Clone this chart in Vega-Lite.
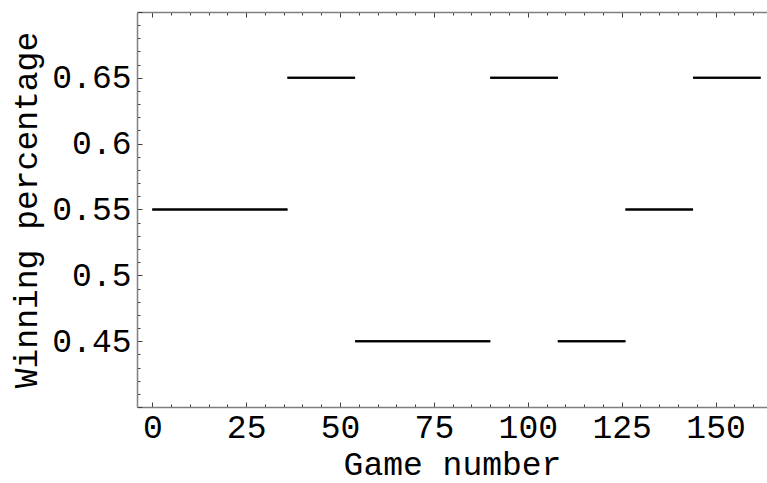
{
  "$schema": "https://vega.github.io/schema/vega-lite/v6.json",
  "autosize": "none",
  "padding": {"left": 137, "top": 12, "right": 0, "bottom": 76},
  "width": 630,
  "height": 395,
  "background": "white",
  "config": {
    "view": {"stroke": null},
    "font": "Liberation Mono",
    "axis": {
      "labelFont": "Liberation Mono",
      "titleFont": "Liberation Mono",
      "labelFontSize": 33,
      "titleFontSize": 33,
      "titleFontWeight": "normal",
      "labelColor": "black",
      "titleColor": "black",
      "domainColor": "#808080",
      "domainWidth": 1.5,
      "tickColor": "#404040",
      "tickWidth": 1,
      "grid": false
    }
  },
  "data": {
    "values": [
      {"start": 0, "end": 36, "pct": 0.55},
      {"start": 36, "end": 54, "pct": 0.65},
      {"start": 54, "end": 90, "pct": 0.45},
      {"start": 90, "end": 108, "pct": 0.65},
      {"start": 108, "end": 126, "pct": 0.45},
      {"start": 126, "end": 144, "pct": 0.55},
      {"start": 144, "end": 162, "pct": 0.65}
    ]
  },
  "layer": [
    {
      "mark": {"type": "rule", "color": "black", "strokeWidth": 2},
      "encoding": {
        "x": {
          "field": "start", "type": "quantitative",
          "scale": {"domain": [-4.07, 163.7], "nice": false, "zero": false},
          "axis": {
            "orient": "bottom",
            "title": "Game number",
            "values": [0,5,10,15,20,25,30,35,40,45,50,55,60,65,70,75,80,85,90,95,100,105,110,115,120,125,130,135,140,145,150,155,160],
            "labelExpr": "datum.value % 25 == 0 ? datum.label : ''",
            "tickSize": {"condition": {"test": "datum.value % 25 == 0", "value": -5}, "value": -3},
            "labelPadding": 9,
            "labelFlush": false,
            "labelOverlap": false,
            "titlePadding": 2
          }
        },
        "x2": {"field": "end"},
        "y": {
          "field": "pct", "type": "quantitative",
          "scale": {"domain": [0.4, 0.7], "nice": false, "zero": false},
          "axis": {
            "orient": "left",
            "title": "Winning percentage",
            "format": ".2~f",
            "values": [0.4,0.41,0.42,0.43,0.44,0.45,0.46,0.47,0.48,0.49,0.5,0.51,0.52,0.53,0.54,0.55,0.56,0.57,0.58,0.59,0.6,0.61,0.62,0.63,0.64,0.65,0.66,0.67,0.68,0.69,0.7],
            "labelExpr": "abs(datum.value*20 - round(datum.value*20)) < 0.000001 && datum.value > 0.41 && datum.value < 0.69 ? datum.label : ''",
            "tickSize": {"condition": {"test": "abs(datum.value*20 - round(datum.value*20)) < 0.000001", "value": -5}, "value": -3},
            "labelPadding": 11,
            "labelOverlap": false,
            "labelFlush": false,
            "titlePadding": 8
          }
        }
      }
    },
    {
      "mark": {"type": "rule", "color": "black", "strokeWidth": 2},
      "encoding": {
        "x": {
          "field": "start", "type": "quantitative",
          "scale": {"domain": [-4.07, 163.7], "nice": false, "zero": false},
          "axis": {
            "orient": "top",
            "title": null,
            "labels": false,
            "values": [0,5,10,15,20,25,30,35,40,45,50,55,60,65,70,75,80,85,90,95,100,105,110,115,120,125,130,135,140,145,150,155,160],
            "tickSize": {"condition": {"test": "datum.value % 25 == 0", "value": -5}, "value": -3}
          }
        },
        "x2": {"field": "end"},
        "y": {
          "field": "pct", "type": "quantitative",
          "scale": {"domain": [0.4, 0.7], "nice": false, "zero": false},
          "axis": {"orient": "right", "title": null, "labels": false, "ticks": false, "domain": false}
        }
      }
    }
  ],
  "resolve": {"axis": {"x": "independent", "y": "independent"}}
}
